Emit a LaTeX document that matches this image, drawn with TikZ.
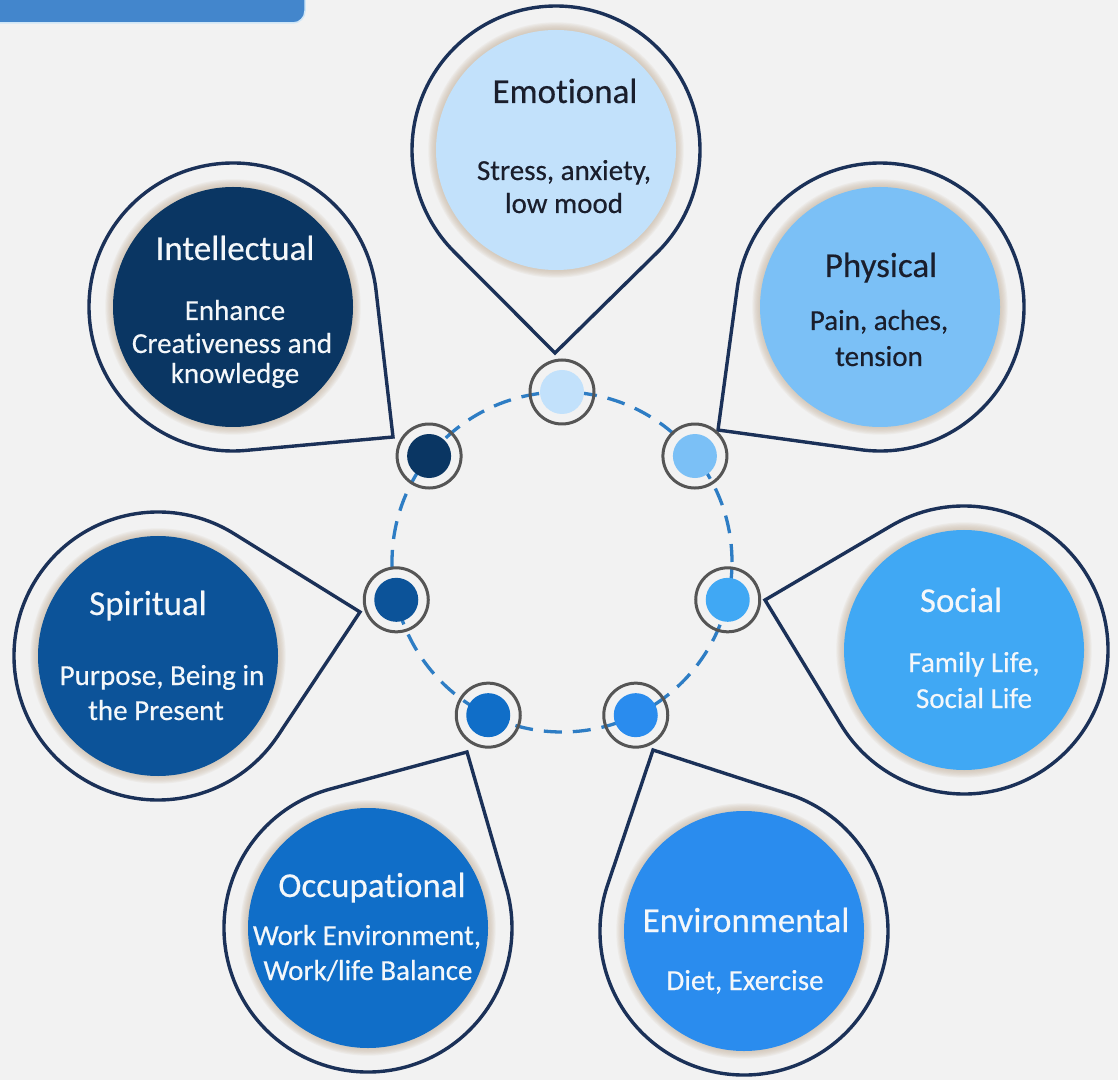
\documentclass[tikz,border=0pt]{standalone}
\usepackage{fontspec}
\setmainfont{Carlito}[Ligatures={NoCommon}, FakeBold=0.4]
\usetikzlibrary{calc}
\definecolor{bg}{HTML}{F2F2F2}
\definecolor{pinline}{HTML}{1B3158}
\definecolor{ringdash}{HTML}{2E7DC4}
\definecolor{ringgray}{HTML}{555555}
\definecolor{cE}{HTML}{C2E1FB}
\definecolor{cP}{HTML}{7BC0F6}
\definecolor{cS}{HTML}{40A8F4}
\definecolor{cV}{HTML}{2A8CEE}
\definecolor{cO}{HTML}{106EC8}
\definecolor{cSp}{HTML}{0C5399}
\definecolor{cI}{HTML}{0A3663}
\definecolor{barblue}{HTML}{4386CC}
\definecolor{baredge}{HTML}{CFE6F7}
\definecolor{darktxt}{HTML}{1A1E2C}
\definecolor{lighttxt}{HTML}{F4F7FA}
\definecolor{glow}{HTML}{C9B8A4}
\tikzset{
  pinshape/.style={draw=pinline, line width=3.4pt, fill=bg, line join=miter},
  disc/.style={circle, inner sep=0pt, minimum size=240pt},
  ttl/.style={anchor=base, font=\fontsize{35}{40}\selectfont, inner sep=0pt},
  dsc/.style={anchor=base, font=\fontsize{29}{33}\selectfont, inner sep=0pt},
  dotring/.style={circle, draw=ringgray, line width=3pt, minimum size=64pt, inner sep=0pt},
  dotfill/.style={circle, minimum size=44pt, inner sep=0pt},
  ringline/.style={draw=ringdash, line width=3.3pt, dash pattern=on 18pt off 11pt},
}
\newcommand\pinat[6]{%
  \pgfmathsetmacro\pcx{#2}%
  \pgfmathsetmacro\pcy{1080-#3}%
  \pgfmathsetmacro\ptx{#4}%
  \pgfmathsetmacro\pty{1080-#5}%
  \pgfmathsetmacro\pang{atan2(\pty-\pcy,\ptx-\pcx)}%
  \pgfmathsetmacro\pdd{veclen(\ptx-\pcx,\pty-\pcy)}%
  \pgfmathsetmacro\pal{acos(144/\pdd)}%
  \coordinate (#1tip) at (\ptx pt,\pty pt);
  \coordinate (#1c) at (\pcx pt,\pcy pt);
  \draw[pinshape] (#1tip) -- ($(#1c)+(\pang+\pal:144pt)$)
     arc[start angle=\pang+\pal, end angle=\pang-\pal+360, radius=144pt] -- cycle;
  \foreach \g in {1,...,7} \fill[glow, opacity=0.13] (#1c) circle[radius=120pt+\g*1.1pt];
  \node[disc, fill=#6] (#1) at (#1c) {};
}
\begin{document}
\begin{tikzpicture}
\useasboundingbox (0pt,0pt) rectangle (1118pt,1080pt);
\fill[bg] (0pt,0pt) rectangle (1118pt,1080pt);
% top bar
\filldraw[fill=barblue, draw=baredge, line width=1.5pt, rounded corners=12pt] (-30pt,1057pt) rectangle (305pt,1110pt);
% pins
\pinat{pE}{556}{150}{555}{353}{cE}
\pinat{pP}{880}{307}{718}{430}{cP}
\pinat{pS}{964}{650}{765}{600}{cS}
\pinat{pV}{744}{931}{653}{750}{cV}
\pinat{pO}{368}{928}{467}{752}{cO}
\pinat{pSp}{158}{656}{360}{612}{cSp}
\pinat{pI}{233}{307}{393}{437}{cI}
% central ring
\coordinate (ringc) at (562pt,518pt);
\draw[ringline] (ringc) circle[radius=170pt];
\foreach \nm/\col [count=\k from 0] in {E/cE, P/cP, S/cS, V/cV, O/cO, Sp/cSp, I/cI} {
  \pgfmathsetmacro\aa{90-\k*360/7}
  \node[dotring] (r\nm) at ($(ringc)+(\aa:170pt)$) {};
  \node[dotfill, fill=\col] (d\nm) at (r\nm) {};
}
% texts
\node[ttl, text=darktxt] (tE) at (565pt,977pt) {Emotional};
\node[dsc, text=darktxt] (tE1) at (564pt,900pt) {Stress, anxiety,};
\node[dsc, text=darktxt] (tE2) at (564pt,867pt) {low mood};
\node[ttl, text=darktxt] (tP) at (881pt,803pt) {Physical};
\node[dsc, text=darktxt] (tP1) at (879pt,750pt) {Pain, aches,};
\node[dsc, text=darktxt] (tP2) at (879pt,714pt) {tension};
\node[ttl, text=lighttxt] (tI) at (235pt,820pt) {Intellectual};
\node[dsc, text=lighttxt] (tI1) at (235pt,760pt) {Enhance};
\node[dsc, text=lighttxt] (tI2) at (232pt,727pt) {Creativeness and};
\node[dsc, text=lighttxt] (tI3) at (235pt,697pt) {knowledge};
\node[ttl, text=lighttxt] (tS) at (961pt,468pt) {Social};
\node[dsc, text=lighttxt] (tS1) at (974pt,408pt) {Family Life,};
\node[dsc, text=lighttxt] (tS2) at (974pt,372pt) {Social Life};
\node[ttl, text=lighttxt] (tSp) at (148pt,465pt) {Spiritual};
\node[dsc, text=lighttxt] (tSp1) at (162pt,395pt) {Purpose, Being in};
\node[dsc, text=lighttxt] (tSp2) at (156pt,360pt) {the Present};
\node[ttl, text=lighttxt] (tO) at (372pt,183pt) {Occupational};
\node[dsc, text=lighttxt] (tO1) at (367pt,135pt) {Work Environment,};
\node[dsc, text=lighttxt] (tO2) at (368pt,100pt) {Work/life Balance};
\node[ttl, text=lighttxt] (tV) at (746pt,148pt) {Environmental};
\node[dsc, text=lighttxt] (tV1) at (745pt,90pt) {Diet, Exercise};
\end{tikzpicture}
\end{document}
